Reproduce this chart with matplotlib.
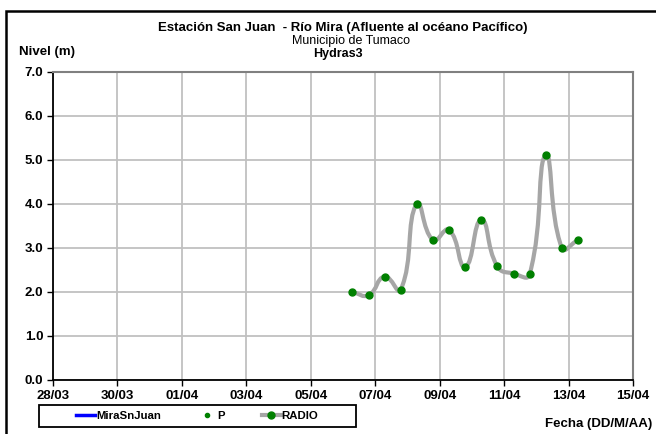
import matplotlib
matplotlib.use('Agg')
import numpy as np
import pandas as pd
import matplotlib.pyplot as plt
import matplotlib.dates as mdates
from matplotlib.path import Path
from matplotlib.patches import PathPatch, Rectangle
from matplotlib.lines import Line2D

plt.rcParams['font.family'] = ['Liberation Sans', 'DejaVu Sans']

# lecturas del sensor RADIO (dos por dia)
fechas = ['2013-04-06 07:00', '2013-04-06 19:00',
          '2013-04-07 07:00', '2013-04-07 19:00',
          '2013-04-08 07:00', '2013-04-08 19:00',
          '2013-04-09 07:00', '2013-04-09 19:00',
          '2013-04-10 07:00', '2013-04-10 19:00',
          '2013-04-11 07:00', '2013-04-11 19:00',
          '2013-04-12 07:00', '2013-04-12 19:00',
          '2013-04-13 07:00']
nivel_radio = [2.00, 1.93, 2.35, 2.05, 4.01, 3.18, 3.41, 2.57,
               3.64, 2.58, 2.42, 2.40, 5.11, 3.00, 3.18]

fecha_ini = '2013-03-28'
fecha_fin = '2013-04-15'
niveles = [0, 1, 2, 3, 4, 5, 6, 7]

GRIS = '#A6A6A6'
VERDE = '#008000'


def curva_suave(ax, x, y, tension=0.5):
    # linea suavizada: Bezier cubica con tangentes ponderadas por la
    # longitud de cada tramo, calculada en pixeles y devuelta a datos
    pts = ax.transData.transform(np.column_stack([x, y]))
    n = len(pts)
    verts = [pts[0]]
    codes = [Path.MOVETO]

    def ctrl(i):
        p0 = pts[max(i - 1, 0)]
        p1 = pts[i]
        p2 = pts[min(i + 1, n - 1)]
        d01 = np.hypot(*(p1 - p0))
        d12 = np.hypot(*(p2 - p1))
        tot = d01 + d12
        fa = tension * d01 / tot
        fb = tension * d12 / tot
        return p1 - fa * (p2 - p0), p1 + fb * (p2 - p0)

    for i in range(n - 1):
        _, c1 = ctrl(i)
        c2, _ = ctrl(i + 1)
        verts += [c1, c2, pts[i + 1]]
        codes += [Path.CURVE4] * 3
    verts = ax.transData.inverted().transform(np.array(verts))
    return Path(verts, codes)


t = pd.to_datetime(fechas)
tx = mdates.date2num(t.to_pydatetime())

fig = plt.figure(figsize=(6.56, 4.34), dpi=100)
ax = fig.add_axes([53 / 656, 1 - 380 / 434, 580 / 656, 308 / 434])

ax.set_xlim(pd.Timestamp(fecha_ini), pd.Timestamp(fecha_fin))
ax.set_ylim(0, 7)
ax.set_xticks(pd.date_range(fecha_ini, fecha_fin, freq='2D'))
ax.xaxis.set_major_formatter(mdates.DateFormatter('%d/%m'))
ax.set_yticks(niveles)
ax.set_yticklabels(['%.1f' % v for v in niveles])

ax.add_patch(PathPatch(curva_suave(ax, tx, nivel_radio), facecolor='none',
                       edgecolor=GRIS, lw=3, capstyle='round',
                       joinstyle='round', zorder=3))
ax.plot(tx, nivel_radio, ls='none', marker='o', ms=5, color=VERDE,
        mec=VERDE, zorder=4)

ax.grid(True, color='#C0C0C0', lw=1.3, zorder=0)
ax.set_axisbelow(True)
for s in ['top', 'right']:
    ax.spines[s].set_color('#808080')
    ax.spines[s].set_linewidth(1.5)
for s in ['left', 'bottom']:
    ax.spines[s].set_color('black')
    ax.spines[s].set_linewidth(1.3)
ax.tick_params(direction='out', length=4, width=1, colors='black',
               labelsize=9.5)
ax.tick_params(axis='x', pad=3.5)
ax.tick_params(axis='y', pad=3)
for lab in ax.get_xticklabels() + ax.get_yticklabels():
    lab.set_fontweight('bold')

# titulos
cx = (53 + 633) / 2 / 656
fig.text(cx, 1 - 31 / 434, 'Estación San Juan  - Río Mira (Afluente al océano Pacífico)',
         ha='center', va='baseline', fontsize=9.5, fontweight='bold')
fig.text(cx + 8 / 656, 1 - 44 / 434, 'Municipio de Tumaco',
         ha='center', va='baseline', fontsize=9)
fig.text(cx - 5 / 656, 1 - 57 / 434, 'Hydras3',
         ha='center', va='baseline', fontsize=9, fontweight='bold')
fig.text(19 / 656, 1 - 55 / 434, 'Nivel (m)', ha='left', va='baseline',
         fontsize=9.5, fontweight='bold')
fig.text(652 / 656, 1 - 427 / 434, 'Fecha (DD/M/AA)', ha='right',
         va='baseline', fontsize=9.5, fontweight='bold')

# marco exterior
fig.patches.append(Rectangle((6 / 656, -0.1), 1.2, 1.1 - 11 / 434,
                             transform=fig.transFigure, fill=False,
                             edgecolor='black', lw=1.8))

# leyenda
fig.patches.append(Rectangle((39 / 656, 1 - 427 / 434), 317 / 656, 22 / 434,
                             transform=fig.transFigure, facecolor='white',
                             edgecolor='black', lw=1.3))
handles = [Line2D([], [], color='blue', lw=2.5),
           Line2D([], [], color=VERDE, marker='o', ls='none', ms=3),
           Line2D([], [], color=GRIS, lw=3, marker='o', ms=5,
                  mfc=VERDE, mec=VERDE)]
leg = fig.legend(handles, ['MiraSnJuan', 'P', 'RADIO'], ncol=3,
                 frameon=False, loc='center left',
                 bbox_to_anchor=(76 / 656, 1 - 416 / 434),
                 bbox_transform=fig.transFigure, borderpad=0,
                 borderaxespad=0, handlelength=1.67, handletextpad=0.1,
                 columnspacing=3.2, prop={'size': 8.2, 'weight': 'bold'})

fig.savefig('out.png', dpi=100)
